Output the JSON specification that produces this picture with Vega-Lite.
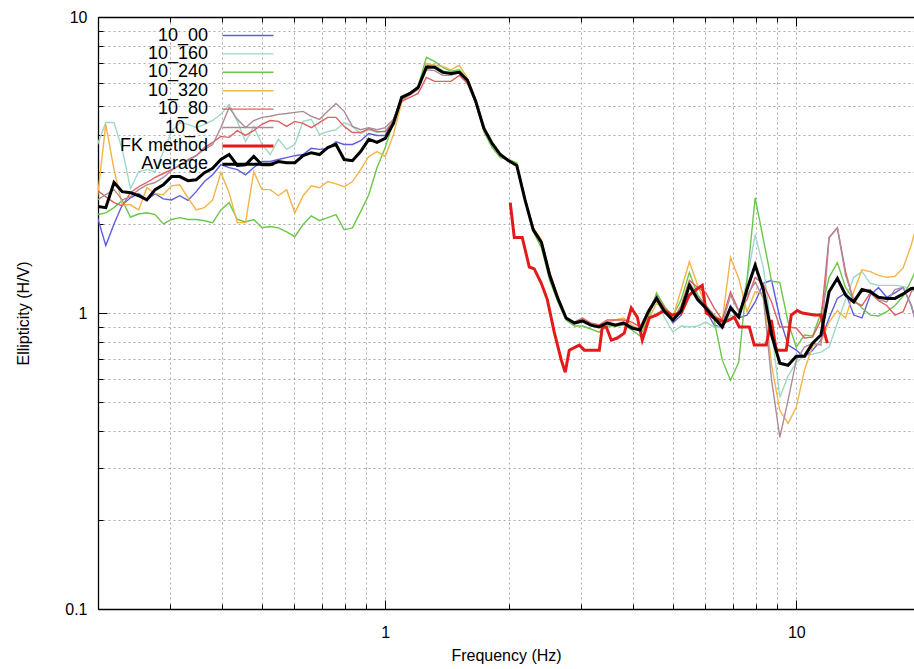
{
  "$schema": "https://vega.github.io/schema/vega-lite/v6.json",
  "width": 816,
  "height": 592,
  "padding": {"left": 98, "top": 17, "right": 0, "bottom": 60},
  "autosize": {"type": "none"},
  "background": "white",
  "datasets": {
    "hv": [
      {"f":0.1995,"10_00":2.10,"10_160":3.71,"10_240":2.15,"10_320":2.47,"10_80":2.59,"10_C":2.41,"Average":2.29},
      {"f":0.2089,"10_00":1.69,"10_160":4.40,"10_240":2.18,"10_320":4.34,"10_80":2.47,"10_C":2.51,"Average":2.27},
      {"f":0.2188,"10_00":2.00,"10_160":4.40,"10_240":2.27,"10_320":3.05,"10_80":2.36,"10_C":2.61,"Average":2.76},
      {"f":0.2291,"10_00":2.32,"10_160":3.57,"10_240":2.40,"10_320":2.32,"10_80":2.30,"10_C":2.41,"Average":2.57},
      {"f":0.2399,"10_00":2.45,"10_160":2.63,"10_240":2.11,"10_320":2.32,"10_80":2.55,"10_C":2.47,"Average":2.55},
      {"f":0.2512,"10_00":2.53,"10_160":3.00,"10_240":2.16,"10_320":2.23,"10_80":2.67,"10_C":2.61,"Average":2.49},
      {"f":0.2630,"10_00":2.41,"10_160":3.05,"10_240":2.18,"10_320":2.65,"10_80":2.76,"10_C":2.71,"Average":2.41},
      {"f":0.2754,"10_00":2.53,"10_160":3.00,"10_240":2.15,"10_320":2.53,"10_80":2.87,"10_C":2.76,"Average":2.61},
      {"f":0.2884,"10_00":2.43,"10_160":3.51,"10_240":2.00,"10_320":2.51,"10_80":2.96,"10_C":2.87,"Average":2.71},
      {"f":0.3020,"10_00":2.41,"10_160":4.10,"10_240":2.07,"10_320":2.69,"10_80":3.05,"10_C":3.03,"Average":2.89},
      {"f":0.3162,"10_00":2.49,"10_160":4.40,"10_240":2.10,"10_320":2.71,"10_80":3.15,"10_C":3.17,"Average":2.89},
      {"f":0.3311,"10_00":2.40,"10_160":4.34,"10_240":2.07,"10_320":2.45,"10_80":3.30,"10_C":3.27,"Average":2.80},
      {"f":0.3467,"10_00":2.57,"10_160":4.23,"10_240":2.07,"10_320":2.23,"10_80":3.40,"10_C":3.40,"Average":2.82},
      {"f":0.3631,"10_00":2.78,"10_160":4.34,"10_240":2.05,"10_320":2.27,"10_80":3.62,"10_C":3.57,"Average":2.98},
      {"f":0.3802,"10_00":2.93,"10_160":4.47,"10_240":2.02,"10_320":2.41,"10_80":3.77,"10_C":3.71,"Average":3.08},
      {"f":0.3981,"10_00":3.17,"10_160":4.69,"10_240":2.23,"10_320":2.98,"10_80":3.95,"10_C":4.23,"Average":3.30},
      {"f":0.4169,"10_00":3.10,"10_160":5.06,"10_240":2.36,"10_320":2.55,"10_80":3.92,"10_C":4.95,"Average":3.43},
      {"f":0.4365,"10_00":3.05,"10_160":4.44,"10_240":2.07,"10_320":2.02,"10_80":4.13,"10_C":4.51,"Average":3.15},
      {"f":0.4571,"10_00":2.93,"10_160":3.79,"10_240":2.03,"10_320":2.02,"10_80":3.98,"10_C":4.23,"Average":3.17},
      {"f":0.4786,"10_00":3.10,"10_160":4.27,"10_240":2.07,"10_320":3.00,"10_80":4.13,"10_C":4.47,"Average":3.38},
      {"f":0.5012,"10_00":3.25,"10_160":3.71,"10_240":1.94,"10_320":2.61,"10_80":4.34,"10_C":4.58,"Average":3.17},
      {"f":0.5248,"10_00":3.25,"10_160":3.43,"10_240":1.96,"10_320":2.61,"10_80":4.47,"10_C":4.62,"Average":3.17},
      {"f":0.5495,"10_00":3.30,"10_160":3.86,"10_240":1.94,"10_320":2.49,"10_80":4.44,"10_C":4.69,"Average":3.25},
      {"f":0.5754,"10_00":3.35,"10_160":3.57,"10_240":1.88,"10_320":2.61,"10_80":4.27,"10_C":4.72,"Average":3.22},
      {"f":0.6026,"10_00":3.40,"10_160":3.71,"10_240":1.81,"10_320":2.18,"10_80":4.44,"10_C":4.76,"Average":3.22},
      {"f":0.6310,"10_00":3.43,"10_160":4.44,"10_240":1.99,"10_320":2.49,"10_80":4.37,"10_C":4.80,"Average":3.40},
      {"f":0.6607,"10_00":3.60,"10_160":4.51,"10_240":2.13,"10_320":2.69,"10_80":4.23,"10_C":4.62,"Average":3.48},
      {"f":0.6918,"10_00":3.57,"10_160":4.01,"10_240":2.05,"10_320":2.65,"10_80":4.40,"10_C":4.51,"Average":3.43},
      {"f":0.7244,"10_00":3.60,"10_160":4.10,"10_240":2.10,"10_320":2.78,"10_80":4.58,"10_C":4.80,"Average":3.62},
      {"f":0.7586,"10_00":3.79,"10_160":4.16,"10_240":2.15,"10_320":2.73,"10_80":4.58,"10_C":5.10,"Average":3.71},
      {"f":0.7943,"10_00":3.71,"10_160":4.40,"10_240":1.91,"10_320":2.67,"10_80":4.27,"10_C":4.80,"Average":3.30},
      {"f":0.8318,"10_00":3.71,"10_160":4.27,"10_240":1.94,"10_320":2.78,"10_80":4.07,"10_C":4.27,"Average":3.27},
      {"f":0.8710,"10_00":3.82,"10_160":4.04,"10_240":2.20,"10_320":3.05,"10_80":4.07,"10_C":4.16,"Average":3.51},
      {"f":0.9120,"10_00":4.04,"10_160":4.16,"10_240":2.51,"10_320":3.38,"10_80":4.20,"10_C":4.23,"Average":3.86},
      {"f":0.9550,"10_00":3.98,"10_160":4.07,"10_240":3.10,"10_320":3.51,"10_80":4.10,"10_C":4.16,"Average":3.77},
      {"f":1.000,"10_00":3.98,"10_160":4.13,"10_240":3.62,"10_320":3.38,"10_80":4.10,"10_C":4.23,"Average":3.89},
      {"f":1.047,"10_00":4.51,"10_160":4.44,"10_240":4.44,"10_320":4.01,"10_80":4.44,"10_C":4.51,"Average":4.37},
      {"f":1.096,"10_00":5.31,"10_160":5.27,"10_240":5.22,"10_320":5.15,"10_80":5.19,"10_C":5.27,"Average":5.35},
      {"f":1.148,"10_00":5.52,"10_160":5.48,"10_240":5.48,"10_320":5.56,"10_80":5.35,"10_C":5.44,"Average":5.52},
      {"f":1.202,"10_00":5.78,"10_160":5.83,"10_240":5.83,"10_320":5.78,"10_80":5.52,"10_C":5.70,"Average":5.78},
      {"f":1.259,"10_00":6.87,"10_160":6.93,"10_240":7.31,"10_320":6.98,"10_80":6.25,"10_C":6.63,"Average":6.76},
      {"f":1.318,"10_00":6.87,"10_160":6.87,"10_240":7.08,"10_320":6.87,"10_80":6.06,"10_C":6.59,"Average":6.76},
      {"f":1.380,"10_00":6.56,"10_160":6.59,"10_240":6.76,"10_320":6.81,"10_80":6.06,"10_C":6.35,"Average":6.50},
      {"f":1.445,"10_00":6.45,"10_160":6.50,"10_240":6.56,"10_320":6.63,"10_80":6.06,"10_C":6.35,"Average":6.45},
      {"f":1.514,"10_00":6.56,"10_160":6.63,"10_240":6.63,"10_320":6.87,"10_80":6.35,"10_C":6.50,"Average":6.50},
      {"f":1.585,"10_00":6.11,"10_160":6.16,"10_240":6.16,"10_320":6.21,"10_80":5.96,"10_C":6.06,"Average":6.11},
      {"f":1.660,"10_00":5.19,"10_160":5.15,"10_240":5.10,"10_320":5.19,"10_80":5.10,"10_C":5.15,"Average":5.19},
      {"f":1.738,"10_00":4.20,"10_160":4.16,"10_240":4.10,"10_320":4.16,"10_80":4.16,"10_C":4.20,"Average":4.20},
      {"f":1.820,"10_00":3.74,"10_160":3.67,"10_240":3.62,"10_320":3.71,"10_80":3.74,"10_C":3.71,"Average":3.74},
      {"f":1.905,"10_00":3.43,"10_160":3.38,"10_240":3.35,"10_320":3.40,"10_80":3.40,"10_C":3.40,"Average":3.43},
      {"f":1.995,"10_00":3.27,"10_160":3.27,"10_240":3.30,"10_320":3.30,"10_80":3.30,"10_C":3.30,"Average":3.27},
      {"f":2.089,"10_00":3.15,"10_160":3.15,"10_240":3.22,"10_320":3.17,"10_80":3.15,"10_C":3.15,"Average":3.15},
      {"f":2.188,"10_00":2.41,"10_160":2.43,"10_240":2.45,"10_320":2.41,"10_80":2.41,"10_C":2.41,"Average":2.41},
      {"f":2.291,"10_00":1.91,"10_160":1.93,"10_240":1.88,"10_320":1.94,"10_80":1.94,"10_C":1.91,"Average":1.91},
      {"f":2.399,"10_00":1.73,"10_160":1.73,"10_240":1.66,"10_320":1.77,"10_80":1.75,"10_C":1.73,"Average":1.73},
      {"f":2.512,"10_00":1.34,"10_160":1.33,"10_240":1.29,"10_320":1.38,"10_80":1.37,"10_C":1.34,"Average":1.34},
      {"f":2.630,"10_00":1.12,"10_160":1.12,"10_240":1.09,"10_320":1.13,"10_80":1.13,"10_C":1.12,"Average":1.12},
      {"f":2.754,"10_00":0.962,"10_160":0.962,"10_240":0.947,"10_320":0.962,"10_80":0.962,"10_C":0.962,"Average":0.962},
      {"f":2.884,"10_00":0.925,"10_160":0.932,"10_240":0.904,"10_320":0.932,"10_80":0.932,"10_C":0.932,"Average":0.925},
      {"f":3.020,"10_00":0.94,"10_160":0.94,"10_240":0.904,"10_320":0.947,"10_80":0.962,"10_C":0.94,"Average":0.94},
      {"f":3.162,"10_00":0.911,"10_160":0.911,"10_240":0.883,"10_320":0.918,"10_80":0.925,"10_C":0.911,"Average":0.91},
      {"f":3.311,"10_00":0.897,"10_160":0.904,"10_240":0.862,"10_320":0.911,"10_80":0.911,"10_C":0.904,"Average":0.897},
      {"f":3.467,"10_00":0.925,"10_160":0.932,"10_240":0.904,"10_320":0.932,"10_80":0.947,"10_C":0.932,"Average":0.925},
      {"f":3.631,"10_00":0.911,"10_160":0.911,"10_240":0.904,"10_320":0.947,"10_80":0.947,"10_C":0.918,"Average":0.91},
      {"f":3.802,"10_00":0.925,"10_160":0.925,"10_240":0.911,"10_320":0.962,"10_80":0.947,"10_C":0.932,"Average":0.925},
      {"f":3.981,"10_00":0.89,"10_160":0.904,"10_240":0.876,"10_320":0.911,"10_80":0.932,"10_C":0.897,"Average":0.89},
      {"f":4.169,"10_00":0.876,"10_160":0.876,"10_240":0.836,"10_320":0.876,"10_80":0.897,"10_C":0.876,"Average":0.876},
      {"f":4.365,"10_00":1.01,"10_160":0.984,"10_240":0.962,"10_320":0.947,"10_80":1.02,"10_C":1.01,"Average":1.01},
      {"f":4.571,"10_00":1.15,"10_160":1.11,"10_240":1.17,"10_320":1.08,"10_80":1.13,"10_C":1.12,"Average":1.12},
      {"f":4.786,"10_00":1.02,"10_160":0.962,"10_240":1.05,"10_320":1.02,"10_80":1.04,"10_C":1.02,"Average":1.01},
      {"f":5.012,"10_00":0.925,"10_160":0.862,"10_240":0.977,"10_320":0.969,"10_80":0.947,"10_C":0.932,"Average":0.947},
      {"f":5.248,"10_00":0.984,"10_160":0.904,"10_240":1.11,"10_320":1.20,"10_80":1.06,"10_C":1.04,"Average":1.02},
      {"f":5.495,"10_00":1.24,"10_160":0.897,"10_240":1.37,"10_320":1.49,"10_80":1.29,"10_C":1.27,"Average":1.24},
      {"f":5.754,"10_00":1.13,"10_160":0.904,"10_240":1.15,"10_320":1.24,"10_80":1.22,"10_C":1.14,"Average":1.11},
      {"f":6.026,"10_00":1.02,"10_160":0.932,"10_240":1.06,"10_320":1.06,"10_80":1.17,"10_C":1.06,"Average":1.04},
      {"f":6.310,"10_00":0.911,"10_160":0.897,"10_240":0.947,"10_320":0.984,"10_80":1.04,"10_C":0.984,"Average":0.962},
      {"f":6.607,"10_00":0.89,"10_160":0.897,"10_240":0.693,"10_320":0.947,"10_80":0.947,"10_C":0.911,"Average":0.897},
      {"f":6.918,"10_00":1.06,"10_160":0.984,"10_240":0.593,"10_320":1.54,"10_80":1.18,"10_C":1.15,"Average":1.04},
      {"f":7.244,"10_00":0.962,"10_160":0.962,"10_240":0.682,"10_320":1.31,"10_80":1.02,"10_C":1.01,"Average":0.969},
      {"f":7.586,"10_00":0.984,"10_160":1.29,"10_240":1.29,"10_320":1.01,"10_80":1.11,"10_C":1.15,"Average":1.20},
      {"f":7.943,"10_00":1.09,"10_160":1.84,"10_240":2.45,"10_320":1.18,"10_80":1.32,"10_C":1.27,"Average":1.45},
      {"f":8.318,"10_00":1.26,"10_160":1.42,"10_240":1.77,"10_320":1.17,"10_80":1.25,"10_C":1.12,"Average":1.20},
      {"f":8.710,"10_00":1.29,"10_160":0.876,"10_240":1.28,"10_320":0.666,"10_80":1.09,"10_C":0.593,"Average":0.842},
      {"f":9.120,"10_00":0.962,"10_160":0.519,"10_240":1.27,"10_320":0.469,"10_80":0.897,"10_C":0.38,"Average":0.677},
      {"f":9.550,"10_00":0.779,"10_160":0.612,"10_240":0.932,"10_320":0.424,"10_80":0.897,"10_C":0.507,"Average":0.666},
      {"f":10.00,"10_00":0.749,"10_160":0.682,"10_240":0.767,"10_320":0.48,"10_80":0.89,"10_C":0.693,"Average":0.715},
      {"f":10.47,"10_00":0.709,"10_160":0.715,"10_240":0.842,"10_320":0.641,"10_80":0.823,"10_C":0.767,"Average":0.715},
      {"f":10.96,"10_00":0.749,"10_160":0.726,"10_240":0.836,"10_320":0.773,"10_80":0.829,"10_C":0.791,"Average":0.791},
      {"f":11.48,"10_00":0.81,"10_160":0.738,"10_240":1.00,"10_320":0.798,"10_80":0.947,"10_C":0.779,"Average":0.842},
      {"f":12.02,"10_00":0.962,"10_160":0.767,"10_240":1.32,"10_320":0.932,"10_80":1.80,"10_C":1.80,"Average":1.18},
      {"f":12.59,"10_00":1.12,"10_160":0.925,"10_240":1.48,"10_320":1.02,"10_80":1.94,"10_C":1.94,"Average":1.31},
      {"f":13.18,"10_00":1.17,"10_160":1.11,"10_240":1.22,"10_320":0.962,"10_80":1.38,"10_C":1.34,"Average":1.15},
      {"f":13.80,"10_00":0.984,"10_160":1.32,"10_240":1.11,"10_320":1.18,"10_80":1.09,"10_C":1.11,"Average":1.09},
      {"f":14.45,"10_00":0.962,"10_160":1.38,"10_240":1.04,"10_320":1.40,"10_80":1.06,"10_C":1.18,"Average":1.20},
      {"f":15.14,"10_00":1.15,"10_160":1.26,"10_240":0.984,"10_320":1.38,"10_80":1.17,"10_C":1.20,"Average":1.18},
      {"f":15.85,"10_00":1.22,"10_160":1.24,"10_240":0.977,"10_320":1.34,"10_80":1.10,"10_C":1.11,"Average":1.13},
      {"f":16.60,"10_00":1.13,"10_160":1.24,"10_240":1.01,"10_320":1.32,"10_80":1.06,"10_C":1.09,"Average":1.12},
      {"f":17.38,"10_00":1.17,"10_160":1.24,"10_240":1.06,"10_320":1.33,"10_80":0.984,"10_C":1.20,"Average":1.12},
      {"f":18.20,"10_00":1.22,"10_160":1.23,"10_240":1.14,"10_320":1.42,"10_80":1.01,"10_C":1.22,"Average":1.16},
      {"f":19.05,"10_00":1.06,"10_160":1.20,"10_240":1.29,"10_320":1.70,"10_80":1.18,"10_C":1.06,"Average":1.21},
      {"f":19.95,"10_00":0.842,"10_160":1.16,"10_240":1.49,"10_320":2.15,"10_80":1.29,"10_C":0.842,"Average":1.22}
    ],
    "fk": [
      {"f":2.014,"FK method":2.36},{"f":2.06,"FK method":1.8},{"f":2.154,"FK method":1.8},
      {"f":2.241,"FK method":1.43},{"f":2.304,"FK method":1.41},{"f":2.397,"FK method":1.26},
      {"f":2.479,"FK method":1.11},{"f":2.577,"FK method":0.862},{"f":2.681,"FK method":0.693},
      {"f":2.741,"FK method":0.631},{"f":2.803,"FK method":0.749},{"f":2.965,"FK method":0.779},
      {"f":3.05,"FK method":0.749},{"f":3.317,"FK method":0.749},{"f":3.373,"FK method":0.897},
      {"f":3.449,"FK method":0.897},{"f":3.548,"FK method":0.81},{"f":3.668,"FK method":0.823},
      {"f":3.815,"FK method":0.855},{"f":3.968,"FK method":1.04},{"f":4.104,"FK method":0.969},
      {"f":4.22,"FK method":0.81},{"f":4.388,"FK method":0.962},{"f":4.564,"FK method":0.984},
      {"f":4.773,"FK method":1.02},{"f":4.992,"FK method":0.984},{"f":5.251,"FK method":1.0},
      {"f":5.491,"FK method":1.15},{"f":5.711,"FK method":1.2},{"f":5.906,"FK method":1.24},
      {"f":6.039,"FK method":1.0},{"f":6.245,"FK method":0.969},{"f":6.494,"FK method":0.947},
      {"f":6.68,"FK method":0.932},{"f":6.871,"FK method":0.947},{"f":7.066,"FK method":0.969},
      {"f":7.268,"FK method":0.897},{"f":7.686,"FK method":0.897},{"f":7.904,"FK method":0.779},
      {"f":8.453,"FK method":0.779},{"f":8.694,"FK method":0.947},{"f":8.94,"FK method":0.749},
      {"f":9.456,"FK method":0.749},{"f":9.723,"FK method":0.984},{"f":10.06,"FK method":1.02},
      {"f":10.34,"FK method":1.0},{"f":11.06,"FK method":0.984},{"f":11.5,"FK method":0.984},
      {"f":11.7,"FK method":0.862},{"f":11.9,"FK method":0.791}
    ]
  },
  "resolve": {"axis": {"x": "independent", "y": "independent"}},
  "layer": [
    {
      "data": {"name": "hv"},
      "transform": [{"fold": ["10_00", "10_160", "10_240"], "as": ["series", "ratio"]}],
      "mark": {"type": "line", "clip": true, "strokeWidth": 1.4},
      "encoding": {
        "x": {"field": "f", "type": "quantitative",
              "scale": {"type": "log", "domain": [0.2, 19.34], "nice": false},
              "axis": {"orient": "bottom", "values": [0.2,0.3,0.4,0.5,0.6,0.7,0.8,0.9,1,2,3,4,5,6,7,8,9,10],
                       "labels": false, "tickSize": -5, "grid": true, "domain": false, "title": null}},
        "y": {"field": "ratio", "type": "quantitative",
              "scale": {"type": "log", "domain": [0.1, 10], "nice": false},
              "axis": {"orient": "left", "values": [0.2,0.3,0.4,0.5,0.6,0.7,0.8,0.9,1,2,3,4,5,6,7,8,9],
                       "labels": false, "tickSize": -5, "grid": true, "domain": false, "title": null}},
        "color": {"field": "series", "type": "nominal",
                  "scale": {"domain": ["10_00","10_160","10_240","10_320","10_80","10_C","FK method","Average"],
                            "range": ["#5c5ce4","#9ed9c8","#6cc649","#f4b446","#de6060","#ad8b99","#e41a1a","#000000"]},
                  "legend": {
                    "encode": {
                      "symbols": {
                        "update": {
                          "strokeWidth": {"signal": "datum.value === 'FK method' || datum.value === 'Average' ? 3 : 1.4"}
                        }
                      }
                    }
                  }}
      }
    },
    {
      "data": {"name": "hv"},
      "transform": [{"fold": ["10_320", "10_80", "10_C"], "as": ["series", "ratio"]}],
      "mark": {"type": "line", "clip": true, "strokeWidth": 1.4},
      "encoding": {
        "x": {"field": "f", "type": "quantitative",
              "scale": {"type": "log", "domain": [0.2, 19.34], "nice": false},
              "axis": {"orient": "top", "values": [0.2,0.3,0.4,0.5,0.6,0.7,0.8,0.9,1,2,3,4,5,6,7,8,9,10],
                       "labels": false, "tickSize": -5, "grid": false, "domain": false, "title": null}},
        "y": {"field": "ratio", "type": "quantitative",
              "scale": {"type": "log", "domain": [0.1, 10], "nice": false}, "axis": null},
        "color": {"field": "series", "type": "nominal"}
      }
    },
    {
      "data": {"name": "fk"},
      "transform": [{"fold": ["FK method"], "as": ["series", "ratio"]}],
      "mark": {"type": "line", "clip": true, "strokeWidth": 3},
      "encoding": {
        "x": {"field": "f", "type": "quantitative",
              "scale": {"type": "log", "domain": [0.2, 19.34], "nice": false},
              "axis": {"orient": "top", "values": [1, 10], "labels": false, "tickSize": -9,
                       "grid": false, "domain": true, "title": null}},
        "y": {"field": "ratio", "type": "quantitative",
              "scale": {"type": "log", "domain": [0.1, 10], "nice": false}, "axis": null},
        "color": {"field": "series", "type": "nominal"}
      }
    },
    {
      "data": {"name": "hv"},
      "transform": [{"fold": ["Average"], "as": ["series", "ratio"]}],
      "mark": {"type": "line", "clip": true, "strokeWidth": 3},
      "encoding": {
        "x": {"field": "f", "type": "quantitative",
              "scale": {"type": "log", "domain": [0.2, 19.34], "nice": false},
              "axis": {"orient": "bottom", "values": [1, 10], "format": "~g", "tickSize": -9,
                       "labelPadding": 24, "grid": false, "domain": true,
                       "title": "Frequency (Hz)", "titlePadding": 7}},
        "y": {"field": "ratio", "type": "quantitative",
              "scale": {"type": "log", "domain": [0.1, 10], "nice": false},
              "axis": {"orient": "left", "values": [0.1, 1, 10], "format": "~g", "tickSize": -9,
                       "labelPadding": 20, "grid": false, "domain": true,
                       "title": "Ellipticity (H/V)", "titlePadding": 33}},
        "color": {"field": "series", "type": "nominal"}
      }
    }
  ],
  "config": {
    "view": {"stroke": null},
    "axis": {
      "labelFont": "Liberation Sans", "labelFontSize": 16, "labelColor": "#000",
      "titleFont": "Liberation Sans", "titleFontSize": 16, "titleFontWeight": "normal", "titleColor": "#000",
      "tickColor": "#000", "tickWidth": 1, "domainColor": "#000", "domainWidth": 1.3,
      "gridColor": "#aaaaaa", "gridDash": [2, 3], "gridWidth": 1, "gridOpacity": 1,
      "labelFlush": false
    },
    "legend": {
      "orient": "none", "legendX": 141, "legendY": 9.5, "title": null, "padding": 0,
      "symbolType": "M-5.1,0H5.1", "symbolSize": 100,
      "labelFont": "Liberation Sans", "labelFontSize": 18, "labelColor": "#000",
      "labelAlign": "right", "labelOffset": -49, "rowPadding": 0.4
    }
  }
}
